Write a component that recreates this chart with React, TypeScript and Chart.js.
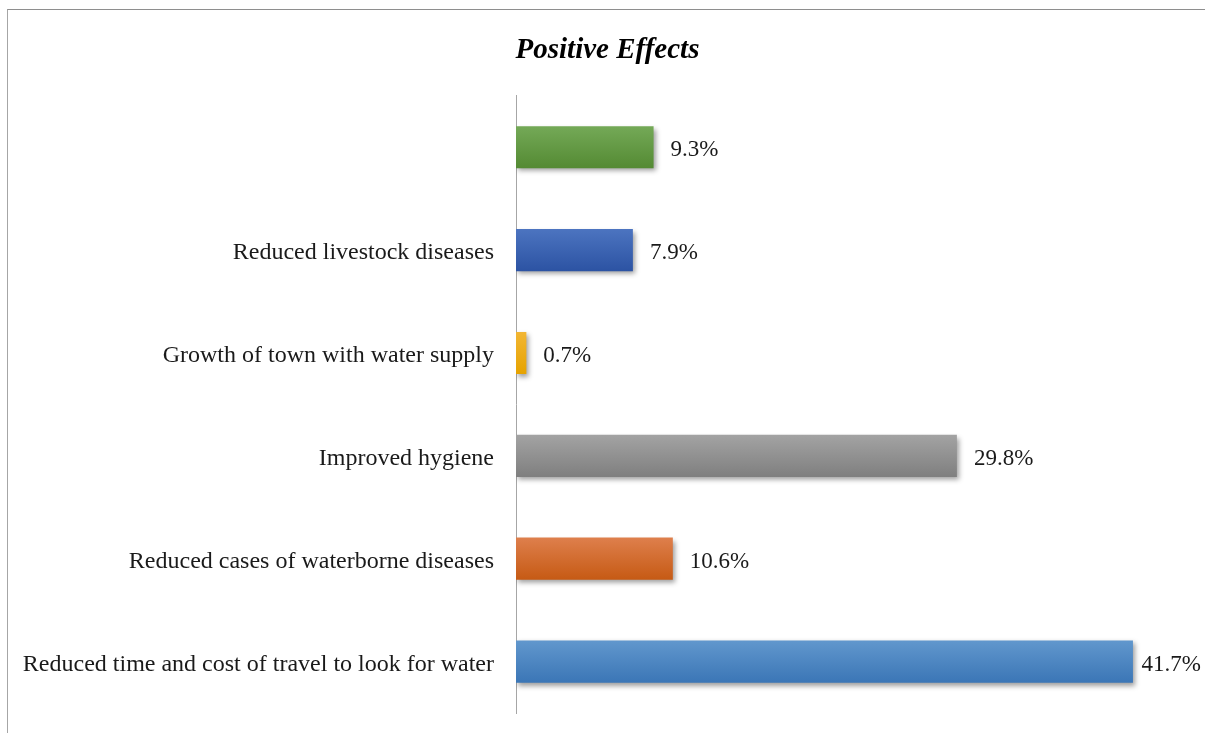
import React, { useEffect, useRef } from "react";
import { Chart, registerables } from "chart.js";

Chart.register(...registerables);

const categories = [
  "",
  "Reduced livestock diseases",
  "Growth of town with water supply",
  "Improved hygiene",
  "Reduced cases of waterborne diseases",
  "Reduced time and cost of travel to look for water",
];
const values = [9.3, 7.9, 0.7, 29.8, 10.6, 41.7];
const topColors = ["#74a957", "#4c74c0", "#f2b634", "#a3a3a3", "#de7f4c", "#6197cd"];
const bottomColors = ["#548a33", "#2c53a3", "#e6a300", "#7f7f7f", "#c65a14", "#3b76b6"];
const flatColors = ["#62983f", "#3a62b2", "#ecac10", "#919191", "#d26a2c", "#4a86c2"];

const FONT = "'Liberation Serif', 'Times New Roman', serif";

export default function App() {
  const ref = useRef<HTMLCanvasElement | null>(null);
  useEffect(() => {
    if (!ref.current) return;
    const shadowPlugin = {
      id: "barShadow",
      beforeDatasetsDraw(chart: any) {
        const ctx = chart.ctx;
        ctx.save();
        ctx.shadowColor = "rgba(0,0,0,0.38)";
        ctx.shadowBlur = 5;
        ctx.shadowOffsetX = 2;
        ctx.shadowOffsetY = 3;
      },
      afterDatasetsDraw(chart: any) {
        const ctx = chart.ctx;
        ctx.restore();
        const meta = chart.getDatasetMeta(0);
        ctx.save();
        ctx.font = `23px ${FONT}`;
        ctx.fillStyle = "#1a1a1a";
        ctx.textAlign = "left";
        ctx.textBaseline = "middle";
        meta.data.forEach((bar: any, i: number) => {
          const txt = values[i].toFixed(1) + "%";
          const w = ctx.measureText(txt).width;
          const x = Math.min(bar.x + 17, chart.width - 4 - w);
          ctx.fillText(txt, x, bar.y + 3);
        });
        ctx.restore();
      },
    };
    const chart = new Chart(ref.current, {
      type: "bar",
      data: {
        labels: categories,
        datasets: [
          {
            data: values,
            backgroundColor: (c: any) => {
              const i = c.dataIndex ?? 0;
              const chart = c.chart;
              const ys = chart.scales && chart.scales.y;
              if (!ys || !chart.chartArea) return flatColors[i];
              const y = ys.getPixelForValue(i);
              const g = chart.ctx.createLinearGradient(0, y - 21, 0, y + 21);
              g.addColorStop(0, topColors[i]);
              g.addColorStop(1, bottomColors[i]);
              return g;
            },
            borderWidth: 0,
            barPercentage: 0.41,
            categoryPercentage: 1,
          },
        ],
      },
      options: {
        indexAxis: "y",
        responsive: false,
        animation: false,
        events: [],
        layout: { padding: { left: 10, right: 0, top: 0, bottom: 20 } },
        plugins: {
          legend: { display: false },
          tooltip: { enabled: false },
          title: {
            display: true,
            text: "Positive Effects",
            color: "#000000",
            font: { family: FONT, size: 29, style: "italic", weight: "bold" },
            padding: { top: 33, bottom: 28 },
          },
        },
        scales: {
          x: { display: false, min: 0, max: 46.57 },
          y: {
            afterFit(scale: any) {
              scale.width = 506;
              scale.paddingTop = 0;
              scale.paddingBottom = 0;
            },
            grid: { display: false, drawTicks: false },
            border: { display: true, color: "#a6a6a6", width: 1 },
            ticks: {
              padding: 22,
              labelOffset: 3,
              color: "#1a1a1a",
              font: { family: FONT, size: 24 },
            },
          },
        },
      },
      plugins: [shadowPlugin],
    });
    return () => chart.destroy();
  }, []);
  return (
    <div style={{ position: "absolute", left: 0, top: 0, width: 1205, height: 733, background: "#fff" }}>
      <div
        style={{
          position: "absolute",
          left: 7,
          top: 9,
          right: 0,
          bottom: 0,
          borderTop: "1px solid #8e8e8e",
          borderLeft: "1px solid #a6a6a6",
        }}
      />
      <canvas ref={ref} width={1205} height={733} style={{ position: "absolute", left: 0, top: 0 }} />
    </div>
  );
}
